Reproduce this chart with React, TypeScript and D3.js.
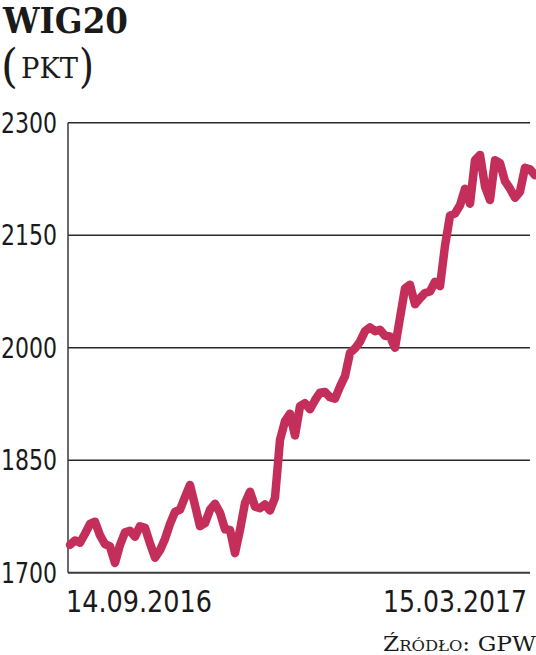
import React from "react";
import * as d3 from "d3";

const title = "WIG20";
const unitLabel = "PKT";
const sourceLabel = "Źródło: GPW";
const yTicks = [1700, 1850, 2000, 2150, 2300];
const xTickLabels = ["14.09.2016", "15.03.2017"];
const wig20 = [
  1737, 1743, 1740, 1752, 1765, 1768, 1750, 1738, 1735, 1713,
  1737, 1754, 1756, 1748, 1762, 1760, 1739, 1720, 1730, 1745,
  1765, 1781, 1784, 1801, 1817, 1790, 1762, 1766, 1784, 1792,
  1780, 1758, 1757, 1726, 1757, 1793, 1808, 1788, 1786, 1791,
  1783, 1800, 1877, 1902, 1912, 1883, 1922, 1926, 1918, 1930,
  1940, 1941, 1934, 1932, 1948, 1962, 1993, 1999, 2008, 2022,
  2027, 2022, 2024, 2016, 2015, 2000, 2040, 2079, 2084, 2058,
  2066, 2073, 2075, 2088, 2082, 2136, 2176, 2179, 2190, 2212,
  2192, 2250, 2257, 2215, 2197, 2250, 2246, 2222, 2212, 2200,
  2208, 2240, 2238, 2230,
];

const W = 536;
const H = 655;
const numFont = "'DejaVu Sans Condensed', 'Liberation Sans Narrow', 'Roboto', sans-serif";
const serif = "'DejaVu Serif', 'Liberation Serif', serif";

export default function App() {
  const x = d3.scaleLinear().domain([0, wig20.length - 1]).range([70, 535]);
  const y = d3.scaleLinear().domain([1700, 2300]).range([572.7, 122.7]);
  const line = d3
    .line<number>()
    .x((_, i) => x(i))
    .y((d) => y(d))
    .curve(d3.curveLinear);

  const axisLeft = 68;
  const gridRight = 530;

  return (
    <svg
      width={W}
      height={H}
      style={{ position: "absolute", left: 0, top: 0, background: "#fff" }}
    >
      <text x={3} y={33} fontFamily={serif} fontWeight="bold" fontSize={35} fill="#1a1a1a" textLength={125} lengthAdjust="spacingAndGlyphs">
        {title}
      </text>
      <text x={1} y={82} fontFamily={serif} fontSize={47} fontWeight={300} fill="#1a1a1a" textLength={17} lengthAdjust="spacingAndGlyphs">(</text>
      <text x={21} y={78} fontFamily={serif} fontSize={28} fill="#1a1a1a" textLength={57} lengthAdjust="spacingAndGlyphs">
        {unitLabel}
      </text>
      <text x={79} y={82} fontFamily={serif} fontSize={47} fontWeight={300} fill="#1a1a1a" textLength={15} lengthAdjust="spacingAndGlyphs">)</text>

      {yTicks.map((t) => (
        <g key={t}>
          {t !== 1700 && (
            <line x1={axisLeft} x2={gridRight} y1={y(t)} y2={y(t)} stroke="#2a2a2a" strokeWidth={1.5} />
          )}
          <text
            x={57}
            y={y(t)}
            dy="0.36em"
            textAnchor="end"
            fontFamily={numFont}
            fontSize={28}
            fill="#1a1a1a"
            textLength={56}
            lengthAdjust="spacingAndGlyphs"
          >
            {t}
          </text>
        </g>
      ))}

      <line x1={axisLeft} x2={axisLeft} y1={y(2300)} y2={y(1700)} stroke="#3a3a3a" strokeWidth={1.5} />
      <line x1={axisLeft} x2={gridRight} y1={y(1700)} y2={y(1700)} stroke="#3a3a3a" strokeWidth={2} />

      <path
        d={line(wig20) || ""}
        fill="none"
        stroke="#c42e5a"
        strokeWidth={8.5}
        strokeLinejoin="round"
        strokeLinecap="round"
      />

      <text x={66} y={612} fontFamily={numFont} fontSize={30} fill="#1a1a1a" textLength={146} lengthAdjust="spacingAndGlyphs">
        {xTickLabels[0]}
      </text>
      <text x={527} y={612} textAnchor="end" fontFamily={numFont} fontSize={30} fill="#1a1a1a" textLength={144} lengthAdjust="spacingAndGlyphs">
        {xTickLabels[1]}
      </text>

      <text
        x={536}
        y={651}
        textAnchor="end"
        fontFamily={serif}
        fontSize={20}
        fill="#1a1a1a"
        style={{ fontVariant: "small-caps" }}
        textLength={153}
        lengthAdjust="spacingAndGlyphs"
      >
        {sourceLabel}
      </text>
    </svg>
  );
}
